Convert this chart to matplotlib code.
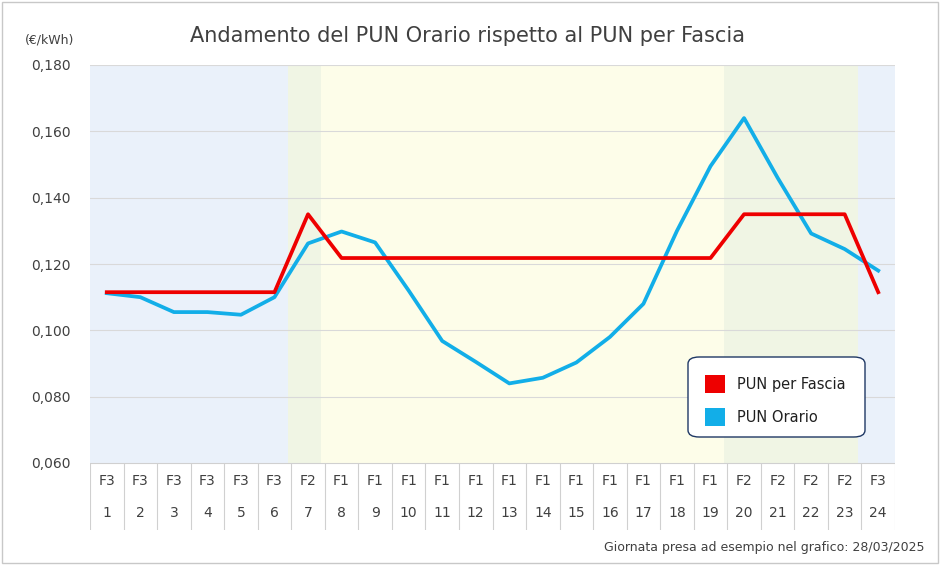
import matplotlib
matplotlib.use("Agg")
import matplotlib.pyplot as plt
from matplotlib.patches import FancyBboxPatch, Rectangle

hours = list(range(1, 25))
fasce = ["F3"]*6 + ["F2"] + ["F1"]*12 + ["F2"]*4 + ["F3"]
pun_orario = [0.1112, 0.1100, 0.1055, 0.1055, 0.1047, 0.1100, 0.1262, 0.1298, 0.1265, 0.1120,
              0.0968, 0.0905, 0.0840, 0.0857, 0.0903, 0.0980, 0.1080, 0.1300, 0.1495, 0.1640,
              0.1460, 0.1292, 0.1245, 0.1180]
fascia_price = {"F1": 0.1218, "F2": 0.1350, "F3": 0.1115}
pun_fascia = [fascia_price[f] for f in fasce]
band_colors = {"F3": "#eaf1fa", "F2": "#f0f5e4", "F1": "#fdfde9"}

W, H = 940, 565
fig = plt.figure(figsize=(W/100, H/100), dpi=100)
fig.patches.append(Rectangle((2/W, 2/H), 1-4/W, 1-4/H, transform=fig.transFigure,
                             fill=False, ec="#c8c8c8", lw=1))
ax = fig.add_axes([90/W, (H-463)/H, 805/W, 398/H])
for h, f in zip(hours, fasce):
    ax.axvspan(h-0.6, h+0.4, color=band_colors[f], lw=0, zorder=0)
ax.axvspan(24.4, 24.5, color=band_colors["F3"], lw=0, zorder=0)
ax.set_xlim(0.5, 24.5)
ax.set_ylim(0.06, 0.18)
yt = [0.06, 0.08, 0.10, 0.12, 0.14, 0.16, 0.18]
ax.set_yticks(yt)
ax.set_yticklabels([f"{v:.3f}".replace(".", ",") for v in yt], fontsize=10, color="#404040")
ax.grid(axis="y", color="#d9d9d9", lw=0.8, zorder=1)
ax.set_xticks([])
ax.tick_params(axis="y", length=0, pad=14)
for s in ax.spines.values():
    s.set_visible(False)
ax.plot(hours, pun_orario, color="#12aee8", lw=2.7, zorder=3, label="PUN Orario")
ax.plot(hours, pun_fascia, color="#ee0000", lw=2.7, zorder=4, label="PUN per Fascia")

# legend
lx0, ly0, lw_, lh = 688, 357, 177, 80
fig.patches.append(FancyBboxPatch((lx0/W, (H-ly0-lh)/H), lw_/W, lh/H, boxstyle="round,pad=0,rounding_size=0.012",
                                  transform=fig.transFigure, fc="white", ec="#1f3864", lw=1, zorder=10))
for i, (lab, c) in enumerate([("PUN per Fascia", "#ee0000"), ("PUN Orario", "#12aee8")]):
    yy = 384 + i*33
    fig.patches.append(Rectangle((705/W, (H-yy-9)/H), 20/W, 18/H, transform=fig.transFigure,
                                 fc=c, ec="none", zorder=11))
    fig.text(737/W, (H-yy)/H, lab, fontsize=10.5, va="center", color="#202020", zorder=12)

# table
tx = fig.add_axes([90/W, (H-530)/H, 805/W, 67/H])
tx.set_xlim(0.5, 24.5)
tx.set_ylim(0, 2)
tx.axis("off")
for h in range(0, 25):
    tx.plot([h+0.5, h+0.5], [0, 2], color="#d0d0d0", lw=0.8)
tx.plot([0.5, 24.5], [2, 2], color="#d0d0d0", lw=0.8)
for h, f in zip(hours, fasce):
    tx.text(h, 1.45, f, ha="center", va="center", fontsize=10, color="#404040")
    tx.text(h, 0.5, str(h), ha="center", va="center", fontsize=10, color="#404040")

fig.text(468/W, (H-36)/H, "Andamento del PUN Orario rispetto al PUN per Fascia", ha="center", va="center",
         fontsize=15, color="#404040")
fig.text(50/W, (H-40)/H, "(€/kWh)", ha="center", va="center", fontsize=9, color="#404040")
fig.text(925/W, (H-548)/H, "Giornata presa ad esempio nel grafico: 28/03/2025", ha="right", va="center",
         fontsize=9, color="#404040")
fig.savefig("out.png", dpi=100)
